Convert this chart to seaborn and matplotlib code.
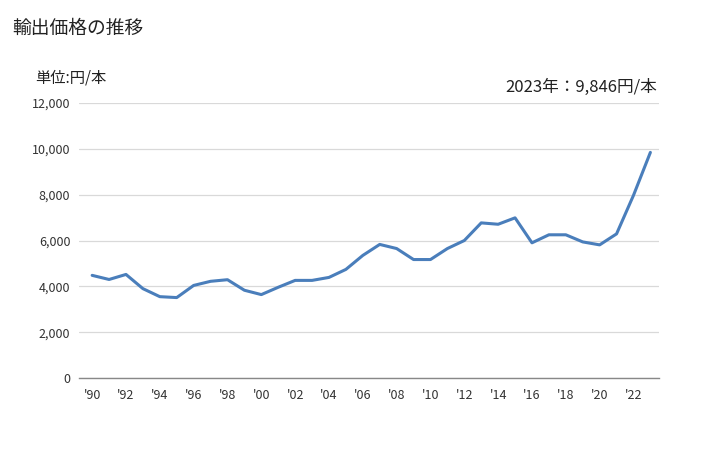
import matplotlib
matplotlib.use("Agg")
import matplotlib.pyplot as plt
import seaborn as sns
import pandas as pd

years = list(range(1990, 2024))
prices = [4480, 4300, 4520, 3900, 3550, 3510, 4040, 4220, 4290, 3830,
          3640, 3960, 4260, 4260, 4390, 4740, 5350, 5830, 5650, 5170,
          5170, 5650, 6000, 6770, 6710, 6990, 5900, 6250, 6250, 5940,
          5810, 6290, 7970, 9846]
tick_years = list(range(1990, 2023, 2))
tick_labels = ["'" + str(y)[2:] for y in tick_years]
y_ticks = [0, 2000, 4000, 6000, 8000, 10000, 12000]

sns.set_theme(style="white")
plt.rcParams['font.family'] = ['Noto Sans CJK JP', 'DejaVu Sans']

df = pd.DataFrame({"year": years, "price": prices})

fig = plt.figure(figsize=(7.28, 4.5), dpi=100)
ax = fig.add_axes([0.108, 0.16, 0.797, 0.611])
sns.lineplot(data=df, x="year", y="price", ax=ax, color="#4a7ebb", linewidth=2.2)

ax.set_xlim(1989.2, 2023.5)
ax.set_ylim(0, 12000)
ax.set_yticks(y_ticks)
ax.set_yticklabels([f"{v:,}" for v in y_ticks], fontsize=9, color="#333333")
ax.set_xticks(tick_years)
ax.set_xticklabels(tick_labels, fontsize=9, color="#333333")
ax.tick_params(axis="both", length=0)
ax.tick_params(axis="y", pad=6)
ax.tick_params(axis="x", pad=8)
ax.set_xlabel("")
ax.set_ylabel("")
ax.grid(axis="y", color="#d9d9d9", linewidth=0.9)
ax.grid(axis="x", visible=False)
for s in ["top", "right", "left"]:
    ax.spines[s].set_visible(False)
ax.spines["bottom"].set_color("#888888")
ax.spines["bottom"].set_linewidth(1.0)

fig.text(12/728, 1-28/450, "輸出価格の推移", fontsize=13.5, va="center", ha="left", color="#222222")
fig.text(35/728, 1-78/450, "単位:円/本", fontsize=11, va="center", ha="left", color="#222222")
fig.text(657/728, 1-87/450, "2023年：9,846円/本", fontsize=12, va="center", ha="right", color="#222222")

fig.savefig("out.png", dpi=100)
